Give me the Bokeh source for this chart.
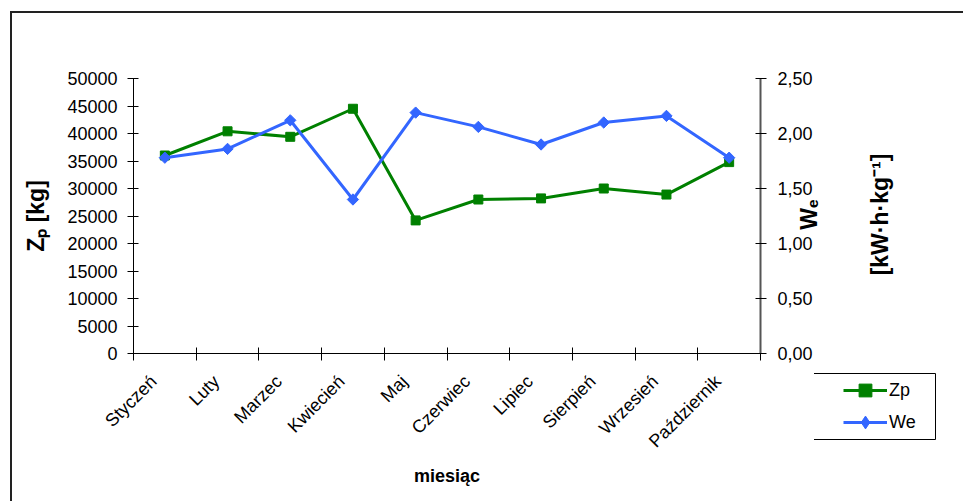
import math
from bokeh.plotting import figure
from bokeh.layouts import column
from bokeh.models import (Range1d, LinearAxis, FixedTicker, CustomJSTickFormatter,
                          Legend, LegendItem)
from bokeh.core.properties import value
from bokeh.embed import file_html
from bokeh.resources import INLINE

months = ["Styczeń", "Luty", "Marzec", "Kwiecień", "Maj", "Czerwiec",
          "Lipiec", "Sierpień", "Wrzesień", "Październik"]
zp = [36000, 40400, 39400, 44500, 24200, 28000, 28200, 30000, 28900, 34800]
we = [1.78, 1.86, 2.12, 1.40, 2.19, 2.06, 1.90, 2.10, 2.16, 1.78]
zp_ticks = list(range(0, 50001, 5000))
we_ticks = [0, 0.5, 1.0, 1.5, 2.0, 2.5]
right_titles = ["Wₑ", "[kW·h·kg⁻¹]"]

x = [i + 0.5 for i in range(len(months))]
label_pos = [i + 0.32 for i in range(len(months))]
bounds = list(range(len(months) + 1))

FONT = "Liberation Sans"
GREEN = "#008000"
BLUE = "#3366FF"

# canvas starts at (12, 13) because of the outer frame border drawn with CSS
p = figure(width=951, height=488, frame_width=625, frame_height=273,
           min_border_left=121, min_border_right=205, min_border_top=65,
           min_border_bottom=150,
           x_range=Range1d(0, len(months)), y_range=Range1d(0, 50000),
           output_backend="svg", toolbar_location=None)
p.margin = (11, 0, 0, 10)
p.styles = {"border-left": "2px solid #222222", "border-top": "2px solid #222222"}
p.outline_line_color = None
p.grid.visible = False
p.background_fill_color = "white"
p.border_fill_color = "white"

p.extra_y_ranges = {"we": Range1d(0, 2.5)}

p.line(x, zp, line_color=GREEN, line_width=3)
p.scatter(x, zp, marker="square", size=9, fill_color=GREEN, line_color=GREEN)
p.line(x, we, y_range_name="we", line_color=BLUE, line_width=3)
p.scatter(x, we, y_range_name="we", marker="square", angle=math.pi / 4,
          size=8, fill_color=BLUE, line_color=BLUE)

# x axis
xa = p.xaxis[0]
xa.ticker = FixedTicker(ticks=label_pos, minor_ticks=bounds)
xa.formatter = CustomJSTickFormatter(args=dict(months=months),
                                     code="return months[Math.floor(tick)];")
xa.major_tick_in = 0
xa.major_tick_out = 0
xa.minor_tick_in = 6
xa.minor_tick_out = 7
xa.minor_tick_line_color = "black"
xa.axis_line_color = "black"
xa.major_label_orientation = math.pi / 4
xa.major_label_standoff = 18
xa.major_label_text_font = FONT
xa.major_label_text_font_size = "18px"
xa.major_label_text_color = "black"
xa.axis_label = "miesiąc"
xa.axis_label_text_font = FONT
xa.axis_label_text_font_size = "18px"
xa.axis_label_text_font_style = "bold"
xa.axis_label_text_color = "black"
xa.axis_label_standoff = 5

# left axis
ya = p.yaxis[0]
ya.ticker = FixedTicker(ticks=zp_ticks, minor_ticks=[])
ya.formatter = CustomJSTickFormatter(code="return tick.toFixed(0);")
ya.major_tick_in = 5
ya.major_tick_out = 6
ya.major_tick_line_color = "black"
ya.axis_line_color = "black"
ya.major_label_standoff = 10
ya.major_label_text_font = FONT
ya.major_label_text_font_size = "18px"
ya.major_label_text_color = "black"
ya.axis_label = "Zₚ [kg]"
ya.axis_label_text_font = FONT
ya.axis_label_text_font_size = "23px"
ya.axis_label_text_font_style = "bold"
ya.axis_label_text_color = "black"
ya.axis_label_standoff = 15

# right axis
ra = LinearAxis(y_range_name="we", ticker=FixedTicker(ticks=we_ticks, minor_ticks=[]),
                formatter=CustomJSTickFormatter(code="return tick.toFixed(2).replace('.', ',');"))
ra.major_tick_in = 5
ra.major_tick_out = 6
ra.major_tick_line_color = "black"
ra.axis_line_color = "#555555"
ra.axis_line_width = 2
ra.major_label_standoff = 11
ra.major_label_text_font = FONT
ra.major_label_text_font_size = "18px"
ra.major_label_text_color = "black"
p.add_layout(ra, "right")


# right axis title (two lines, reading bottom-to-top): transparent overlays,
# one per line, each showing only its own line
def title_overlay(left_px, shown):
    f = figure(width=160, height=200, min_border=0, x_axis_location=None,
               y_axis_location=None, x_range=Range1d(0, 160), y_range=Range1d(0, 200),
               output_backend="svg", toolbar_location=None)
    f.grid.visible = False
    f.outline_line_color = None
    f.background_fill_alpha = 0
    f.border_fill_alpha = 0
    f.styles = {"position": "absolute", "left": f"{left_px}px", "top": "115px"}
    colors = ["black" if i == shown else "rgba(0,0,0,0)" for i in range(len(right_titles))]
    f.text(x=[77, 120], y=[101, 101], text=right_titles, angle=math.pi / 2,
           text_align="center", text_baseline="middle", text_font=value(FONT),
           text_font_size="23px", text_font_style="bold", text_color=colors)
    return f


rfa = title_overlay(774, 0)
rfb = title_overlay(800, 1)

# legend: a small boxed figure placed over the lower right corner of the chart
lf = figure(width=130, height=68, min_border=1, x_axis_location=None,
            y_axis_location=None, x_range=Range1d(0, 1), y_range=Range1d(0, 1),
            output_backend="svg", toolbar_location=None)
lf.grid.visible = False
lf.outline_line_color = "black"
lf.outline_line_width = 1
lf.background_fill_color = "white"
lf.border_fill_color = "white"
lf.styles = {"position": "absolute", "left": "814px", "top": "372px"}
lz1 = lf.line([5, 6], [5, 6], line_color=GREEN, line_width=3)
lz2 = lf.scatter([5], [5], marker="square", size=9, fill_color=GREEN, line_color=GREEN)
lw1 = lf.line([5, 6], [5, 6], line_color=BLUE, line_width=3)
lw2 = lf.scatter([5], [5], marker="diamond", size=12,
                 fill_color=BLUE, line_color=BLUE)
legend = Legend(items=[LegendItem(label="Zp", renderers=[lz1, lz2]),
                       LegendItem(label="We", renderers=[lw1, lw2])],
                location=(29, 1), padding=0, spacing=0, margin=0,
                glyph_width=44, glyph_height=32, label_height=32,
                label_standoff=2, border_line_color=None,
                background_fill_alpha=0,
                label_text_font=FONT, label_text_font_size="18px",
                label_text_color="black")
lf.add_layout(legend, "center")

layout = column(p, rfa, rfb, lf)
open("out.html", "w").write(file_html(layout, INLINE))
